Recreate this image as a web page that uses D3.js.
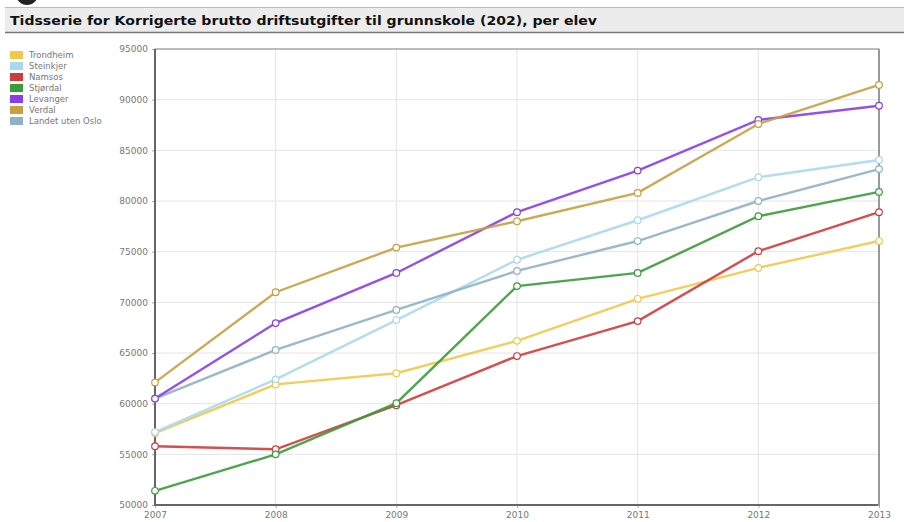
<!DOCTYPE html>
<html><head><meta charset="utf-8">
<script src="https://cdn.jsdelivr.net/npm/d3@7"></script>
<style>
html,body{margin:0;padding:0;background:#fff;}
svg{display:block;font-family:"DejaVu Sans",Verdana,sans-serif;}
</style></head>
<body><svg id="c" width="904" height="522"></svg>
<script>
const title = "Tidsserie for Korrigerte brutto driftsutgifter til grunnskole (202), per elev";
const years = ["2007","2008","2009","2010","2011","2012","2013"];
const yTicks = [50000,55000,60000,65000,70000,75000,80000,85000,90000,95000];
const seriesNames = ["Trondheim","Steinkjer","Namsos","Stjørdal","Levanger","Verdal","Landet uten Oslo"];
const seriesColors = ["#f2c84b","#a9d8f0","#d23b3b","#3a9c3a","#8a3de6","#c9a040","#8fb3c6"];
const trondheim = [57100,61900,63000,66200,70350,73400,76050];
const steinkjer = [57200,62400,68250,74200,78100,82350,84050];
const namsos    = [55800,55500,59850,64700,68150,75050,78900];
const stjordal  = [51400,55000,60050,71600,72900,78500,80900];
const levanger  = [60500,67950,72900,78900,83000,88000,89400];
const verdal    = [62100,71000,75400,78000,80800,87600,91450];
const landet    = [60500,65300,69250,73100,76050,80000,83150];
const seriesValues = [trondheim,steinkjer,namsos,stjordal,levanger,verdal,landet];

const svg = d3.select("#c");
// logo fragment
svg.append("circle").attr("cx",27).attr("cy",-6).attr("r",11).attr("fill","#222");
// title bar
svg.append("rect").attr("x",5).attr("y",7).attr("width",899).attr("height",26).attr("fill","#ececec");
svg.append("line").attr("x1",5).attr("x2",904).attr("y1",7.5).attr("y2",7.5).attr("stroke","#bbb");
svg.append("line").attr("x1",5).attr("x2",904).attr("y1",32.5).attr("y2",32.5).attr("stroke","#777").attr("stroke-width",1.5);
svg.append("text").attr("x",10).attr("y",25).attr("font-size",13).attr("font-weight","bold").attr("fill","#111")
  .attr("textLength",587).attr("lengthAdjust","spacingAndGlyphs").text(title);

const x = d3.scalePoint().domain(years).range([155,879]);
const y = d3.scaleLinear().domain([50000,95000]).range([505,49]);

// grid
const g = svg.append("g");
g.selectAll(".gy").data(yTicks).join("line").attr("x1",155).attr("x2",879)
 .attr("y1",d=>y(d)).attr("y2",d=>y(d)).attr("stroke","#e4e4e4");
g.selectAll(".gx").data(years).join("line").attr("y1",49).attr("y2",505)
 .attr("x1",d=>x(d)).attr("x2",d=>x(d)).attr("stroke","#e4e4e4");

// axes
const ya = svg.append("g").attr("transform","translate(155,0)")
 .call(d3.axisLeft(y).tickValues(yTicks).tickSize(3).tickPadding(4).tickFormat(d=>d));
ya.select(".domain").remove();
ya.selectAll("text").attr("font-size",9).attr("fill","#777").attr("font-family","DejaVu Sans");
ya.selectAll("line").attr("stroke","#aaa");
const xa = svg.append("g").attr("transform","translate(0,505)")
 .call(d3.axisBottom(x).tickSize(3).tickPadding(4));
xa.select(".domain").remove();
xa.selectAll("text").attr("font-size",9).attr("fill","#777").attr("font-family","DejaVu Sans");
xa.selectAll("line").attr("stroke","#aaa");

// frame
svg.append("rect").attr("x",155).attr("y",49).attr("width",724).attr("height",456)
 .attr("fill","none").attr("stroke","#888").attr("stroke-width",1);
svg.append("line").attr("x1",155).attr("x2",155).attr("y1",49).attr("y2",506).attr("stroke","#666").attr("stroke-width",2);
svg.append("line").attr("x1",154).attr("x2",880).attr("y1",505).attr("y2",505).attr("stroke","#666").attr("stroke-width",2);
svg.append("line").attr("x1",879).attr("x2",879).attr("y1",49).attr("y2",506).attr("stroke","#999").attr("stroke-width",2);

// lines
const line = d3.line().x((d,i)=>x(years[i])).y(d=>y(d));
const order = [0,1,2,3,6,4,5];
order.forEach(k=>{
  svg.append("path").datum(seriesValues[k]).attr("d",line).attr("fill","none")
    .attr("stroke",seriesColors[k]).attr("stroke-width",2.4).attr("stroke-opacity",0.9);
});
order.forEach(k=>{
  svg.append("g").selectAll("circle").data(seriesValues[k]).join("circle")
    .attr("cx",(d,i)=>x(years[i])).attr("cy",d=>y(d)).attr("r",3.3)
    .attr("fill","#fff").attr("stroke",seriesColors[k]).attr("stroke-width",1.2);
});

// legend
const lg = svg.append("g");
seriesNames.forEach((n,i)=>{
  const yy = 51 + i*11;
  lg.append("rect").attr("x",10).attr("y",yy).attr("width",13).attr("height",8).attr("fill",seriesColors[i]);
  lg.append("text").attr("x",29).attr("y",yy+7).attr("font-size",8.5).attr("fill","#777").text(n);
});
</script></body></html>
